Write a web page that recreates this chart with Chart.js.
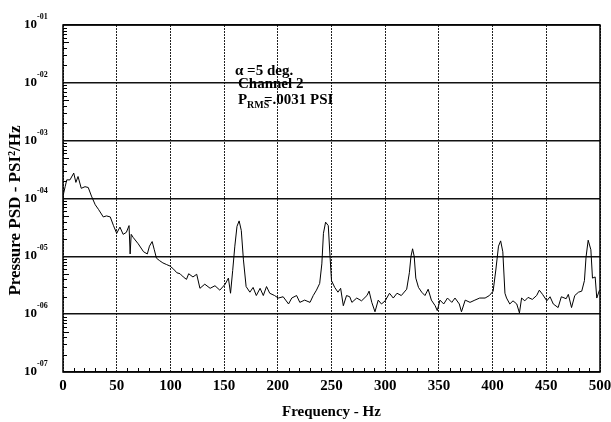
<!DOCTYPE html>
<html>
<head>
<meta charset="utf-8">
<script src="https://cdn.jsdelivr.net/npm/chart.js@4.4.0/dist/chart.umd.min.js"></script>
<style>
  html, body { margin: 0; padding: 0; background: #fff; }
  #wrap { width: 611px; height: 422px; }
</style>
</head>
<body>
<div id="wrap"><canvas id="psdChart"></canvas></div>
<script>
// frequency (Hz) and pressure PSD (PSI^2/Hz)
const freqHz = [
  0, 2, 3.5, 6.5, 10, 12, 14, 17, 20.5, 23.5, 26.5, 30, 33, 37.5, 40.5, 44, 47, 50, 53, 56, 59,
  61.5, 62.5, 63.5, 65.5, 70, 75, 78.5, 80.5, 83, 85, 87, 90, 93, 96.5, 99.6, 103, 106, 109, 112,
  115, 117, 121, 124.5, 127.5, 132, 137, 141.5, 146, 151, 154, 156, 158, 160, 162, 164, 166, 168,
  170.5, 174, 177, 180, 183.5, 186.5, 189.5, 192.5, 197, 200.5, 205, 210, 213, 217.5, 220.5, 225,
  230, 233, 236, 239, 241, 242.5, 244.5, 247, 248.5, 250, 253, 256, 258.5, 261, 264, 267, 269,
  273.5, 278, 283, 285, 287.5, 290.5, 293.5, 296.5, 300, 304, 307.5, 311, 315, 320, 322.5, 324,
  325.5, 327, 328.5, 331, 334, 337, 340, 343, 346.5, 348.5, 351, 354.5, 358, 362, 365, 369, 371,
  374.5, 379, 383.5, 388, 393, 397, 400.5, 403, 405.5, 407.5, 409.5, 411.5, 413, 416, 419, 422.5,
  425, 427, 430, 433, 437, 441, 443.5, 446.5, 450.5, 453.5, 456.5, 461, 464, 468.5, 470.5, 473.5,
  476.5, 480, 483, 485.5, 487, 489, 491.5, 493, 495.5, 497, 499.5
];
const psdValues = [
  1.1e-4, 1.6e-4, 2.1e-4, 2.1e-4, 2.75e-4, 1.9e-4, 2.4e-4, 1.5e-4, 1.6e-4, 1.55e-4, 1.1e-4, 7.8e-5,
  6.5e-5, 4.8e-5, 5.0e-5, 4.8e-5, 3.4e-5, 2.5e-5, 3.2e-5, 2.4e-5, 2.6e-5,
  3.4e-5, 1.1e-5, 2.4e-5, 2.1e-5, 1.65e-5, 1.2e-5, 1.1e-5, 1.5e-5, 1.8e-5, 1.3e-5, 9.3e-6, 8.4e-6,
  7.7e-6, 7.2e-6, 6.8e-6, 6.0e-6, 5.2e-6, 5.0e-6, 4.4e-6,
  4.0e-6, 5.0e-6, 4.4e-6, 4.9e-6, 2.8e-6, 3.3e-6, 2.8e-6, 3.1e-6, 2.6e-6, 3.3e-6, 4.2e-6, 2.3e-6,
  5.7e-6, 1.5e-5, 3.3e-5, 4.1e-5, 2.8e-5, 8.7e-6,
  3.0e-6, 2.4e-6, 2.9e-6, 2.1e-6, 2.8e-6, 2.1e-6, 3.0e-6, 2.3e-6, 2.1e-6, 1.9e-6, 2.0e-6, 1.5e-6,
  1.9e-6, 2.1e-6, 1.6e-6, 1.75e-6,
  1.6e-6, 2.1e-6, 2.6e-6, 3.4e-6, 7.4e-6, 2.5e-5, 3.9e-5, 3.4e-5, 1.1e-5, 3.8e-6, 2.9e-6, 2.4e-6,
  2.8e-6, 1.4e-6, 2.1e-6, 2.0e-6, 1.6e-6,
  1.9e-6, 1.7e-6, 2.1e-6, 2.5e-6, 1.6e-6, 1.1e-6, 1.75e-6, 1.5e-6, 1.7e-6, 2.3e-6, 1.9e-6, 2.3e-6,
  2.1e-6, 2.7e-6, 5.2e-6, 1.0e-5,
  1.35e-5, 1.0e-5, 4.2e-6, 2.9e-6, 2.4e-6, 2.1e-6, 2.7e-6, 1.75e-6, 1.4e-6, 1.15e-6, 1.75e-6,
  1.5e-6, 1.9e-6, 1.6e-6, 1.9e-6, 1.5e-6, 1.1e-6,
  1.75e-6, 1.6e-6, 1.75e-6, 1.9e-6, 1.9e-6, 2.1e-6, 2.5e-6, 5.8e-6, 1.5e-5, 1.85e-5, 1.2e-5, 2.3e-6,
  1.9e-6, 1.5e-6, 1.7e-6, 1.5e-6,
  1.05e-6, 1.9e-6, 1.7e-6, 1.95e-6, 1.8e-6, 2.1e-6, 2.6e-6, 2.2e-6, 1.7e-6, 2.0e-6, 1.5e-6, 1.3e-6,
  2.0e-6, 1.85e-6, 2.2e-6, 1.3e-6,
  2.1e-6, 2.4e-6, 2.5e-6, 3.8e-6, 9.7e-6, 1.9e-5, 1.3e-5, 4.2e-6, 4.4e-6, 1.9e-6, 2.6e-6
];
const xTickLabels = ["0", "50", "100", "150", "200", "250", "300", "350", "400", "450", "500"];
const yDecades = [-7, -6, -5, -4, -3, -2, -1];
const yExpLabels = ["-07", "-06", "-05", "-04", "-03", "-02", "-01"];
const xTitle = "Frequency - Hz";
const yTitle = "Pressure PSD - PSI\u00B2/Hz";

const serif = '"Liberation Serif", "Times New Roman", serif';

// frame, inward minor ticks, tick labels, titles and the note
const paperPlugin = {
  id: "paper",
  afterDraw(chart) {
    const ctx = chart.ctx;
    const a = chart.chartArea;
    const xs = chart.scales.x;
    const ys = chart.scales.y;
    ctx.save();
    ctx.strokeStyle = "#000";
    ctx.fillStyle = "#000";

    ctx.lineWidth = 1.5;
    ctx.strokeRect(a.left, a.top, a.right - a.left, a.bottom - a.top);

    // minor ticks
    ctx.lineWidth = 1;
    ctx.beginPath();
    for (let f = 10; f < 500; f += 10) {
      if (f % 50 === 0) continue;
      const px = Math.round(xs.getPixelForValue(f)) + 0.5;
      ctx.moveTo(px, a.bottom);
      ctx.lineTo(px, a.bottom - 4);
    }
    for (let e = -7; e < -1; e++) {
      for (let m = 2; m <= 9; m++) {
        const py = Math.round(ys.getPixelForValue(m * Math.pow(10, e))) + 0.5;
        ctx.moveTo(a.left, py);
        ctx.lineTo(a.left + (m === 5 ? 6 : 4), py);
      }
    }
    ctx.stroke();

    // y tick labels 10^-0n
    yDecades.forEach((e, i) => {
      const py = ys.getPixelForValue(Math.pow(10, e));
      ctx.font = "bold 13px " + serif;
      ctx.textAlign = "right";
      ctx.textBaseline = "alphabetic";
      ctx.fillText("10", 37, py + 3);
      ctx.font = "bold 8px " + serif;
      ctx.textAlign = "left";
      ctx.fillText(yExpLabels[i], 37, py - 6);
    });

    // x tick labels
    ctx.font = "bold 15px " + serif;
    ctx.textAlign = "center";
    xTickLabels.forEach((t) => {
      ctx.fillText(t, xs.getPixelForValue(Number(t)), 390);
    });

    // axis titles
    ctx.fillText(xTitle, (a.left + a.right) / 2, 416);
    ctx.save();
    ctx.translate(20, (a.top + a.bottom) / 2 + 12);
    ctx.rotate(-Math.PI / 2);
    ctx.font = "bold 17px " + serif;
    ctx.fillText(yTitle, 0, 0);
    ctx.restore();

    // note
    ctx.textAlign = "left";
    ctx.font = "bold 15px " + serif;
    ctx.fillText("\u03B1 =5 deg.", 235, 75);
    ctx.fillText("Channel 2", 238, 88);
    ctx.fillText("P", 238, 104);
    ctx.font = "bold 10px " + serif;
    ctx.fillText("RMS", 247, 108);
    ctx.font = "bold 15px " + serif;
    ctx.fillText("=.0031 PSI", 264, 104);

    ctx.restore();
  },
};

const bgPlugin = {
  id: "bg",
  beforeDraw(chart) {
    const ctx = chart.ctx;
    ctx.save();
    ctx.fillStyle = "#fff";
    ctx.fillRect(0, 0, chart.width, chart.height);
    ctx.restore();
  },
};

const points = freqHz.map((f, i) => ({ x: f, y: psdValues[i] }));

new Chart(document.getElementById("psdChart"), {
  type: "line",
  data: {
    datasets: [
      {
        data: points,
        borderColor: "#000",
        borderWidth: 1,
        pointRadius: 0,
        tension: 0,
      },
    ],
  },
  options: {
    responsive: true,
    maintainAspectRatio: false,
    animation: false,
    layout: { padding: { left: 63, right: 11, top: 25, bottom: 50 } },
    plugins: { legend: { display: false }, tooltip: { enabled: false } },
    scales: {
      x: {
        type: "linear",
        min: 0,
        max: 500,
        ticks: { stepSize: 50, display: false },
        grid: { color: "#222", lineWidth: 1, drawTicks: false },
        border: { display: false, dash: [2, 1] },
        afterFit(s) { s.height = 0; },
      },
      y: {
        type: "logarithmic",
        min: 1e-7,
        max: 1e-1,
        ticks: { display: false },
        afterBuildTicks(s) {
          s.ticks = yDecades.map((e) => ({ value: Math.pow(10, e) }));
        },
        grid: { color: "#111", lineWidth: 1.5, drawTicks: false },
        border: { display: false },
        afterFit(s) { s.width = 0; },
      },
    },
  },
  plugins: [bgPlugin, paperPlugin],
});
</script>
</body>
</html>
